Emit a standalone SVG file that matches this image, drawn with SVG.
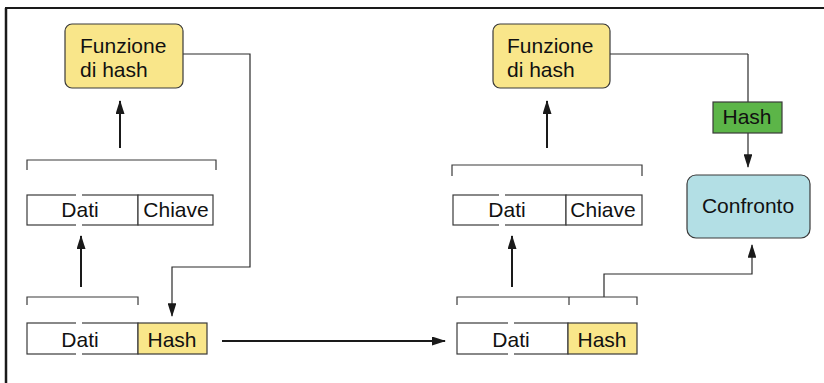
<svg xmlns="http://www.w3.org/2000/svg" width="824" height="383" viewBox="0 0 824 383">
  <style>
    .bg { fill: #ffffff; }
    .frame { stroke: #1a1a1a; fill: none; }
    .cell { fill: #ffffff; stroke: #3a3a3a; stroke-width: 1.2; }
    .hashcell { fill: #f9e68a; stroke: #3a3a3a; stroke-width: 1.2; }
    .func { fill: #f9e68a; stroke: #3a3a3a; stroke-width: 1.2; }
    .green { fill: #5cb548; stroke: #3a3a3a; stroke-width: 1.2; }
    .blue { fill: #b3dfe5; stroke: #3a3a3a; stroke-width: 1.2; }
    .bracket { fill: none; stroke: #3a3a3a; stroke-width: 1.2; }
    .wire { fill: none; stroke: #2a2a2a; stroke-width: 1.2; }
    .arrow { fill: none; stroke: #1a1a1a; stroke-width: 2; }
    .gap { fill: #ffffff; }
    text { font-family: "Liberation Sans", Arial, sans-serif; font-size: 21px; fill: #111111; }
    .c { text-anchor: middle; }
  </style>
  <defs>
    <!-- slender arrowheads: 14 long, 9 wide in user units -->
    <marker id="head" viewBox="0 0 14 9" refX="13" refY="4.5" markerWidth="7" markerHeight="4.5" orient="auto" markerUnits="strokeWidth">
      <path d="M0,0 L14,4.5 L0,9 z" fill="#1a1a1a"/>
    </marker>
    <marker id="headThin" viewBox="0 0 14 9" refX="13" refY="4.5" markerWidth="11.5" markerHeight="7.4" orient="auto" markerUnits="strokeWidth">
      <path d="M0,0 L14,4.5 L0,9 z" fill="#1a1a1a"/>
    </marker>
  </defs>

  <rect class="bg" x="0" y="0" width="824" height="383"/>

  <!-- outer frame: top and left edges -->
  <line class="frame" x1="5" y1="8" x2="824" y2="8" stroke-width="2"/>
  <line class="frame" x1="6" y1="8" x2="6" y2="383" stroke-width="2.5"/>

  <!-- connectors -->
  <g id="connectors">
    <!-- sender side -->
    <polyline class="wire" points="183,54 250,54 250,267 172,267 172,316" marker-end="url(#headThin)"/>
    <line class="arrow" x1="120" y1="148" x2="120" y2="101" marker-end="url(#head)"/>
    <line class="arrow" x1="81" y1="287" x2="81" y2="236" marker-end="url(#head)"/>
    <line class="arrow" x1="222" y1="341" x2="445" y2="341" marker-end="url(#head)"/>
    <!-- receiver side -->
    <line class="arrow" x1="547" y1="148" x2="547" y2="101" marker-end="url(#head)"/>
    <line class="arrow" x1="512" y1="287" x2="512" y2="236" marker-end="url(#head)"/>
    <line class="wire" x1="610" y1="54" x2="748" y2="54"/>
    <line class="wire" x1="748" y1="54" x2="748" y2="102"/>
    <line class="wire" x1="748" y1="133" x2="748" y2="167" marker-end="url(#headThin)"/>
    <polyline class="wire" points="604,297 604,274 752,274 752,245" marker-end="url(#headThin)"/>
  </g>

  <!-- brackets -->
  <g id="brackets">
    <polyline class="bracket" points="27,170 27,160 216,160 216,170"/>
    <polyline class="bracket" points="27,305 27,297 138,297 138,305"/>
    <polyline class="bracket" points="452,176 452,165 642,165 642,176"/>
    <polyline class="bracket" points="457,305 457,297 637,297 637,305"/>
    <line class="bracket" x1="569" y1="297" x2="569" y2="305"/>
  </g>

  <!-- sender: hash function -->
  <g id="func-left">
    <rect class="func" x="65" y="24" width="118" height="64" rx="7"/>
    <text x="80" y="53">Funzione</text>
    <text x="80" y="77">di hash</text>
  </g>

  <!-- sender: data + key -->
  <g id="row-left-key">
    <rect class="cell" x="27" y="195" width="111" height="30"/>
    <rect class="cell" x="138" y="195" width="75" height="30"/>
    <rect class="gap" x="76" y="193" width="6" height="4"/>
    <rect class="gap" x="76" y="223" width="6" height="4"/>
    <text class="c" x="80" y="217">Dati</text>
    <text class="c" x="176" y="217">Chiave</text>
  </g>

  <!-- sender: data + hash -->
  <g id="row-left-hash">
    <rect class="cell" x="27" y="323" width="111" height="31"/>
    <rect class="hashcell" x="138" y="323" width="69" height="31"/>
    <rect class="gap" x="76" y="321" width="6" height="4"/>
    <rect class="gap" x="76" y="352" width="6" height="4"/>
    <text class="c" x="80" y="347">Dati</text>
    <text class="c" x="172" y="347">Hash</text>
  </g>

  <!-- receiver: hash function -->
  <g id="func-right">
    <rect class="func" x="493" y="24" width="117" height="64" rx="7"/>
    <text x="507" y="53">Funzione</text>
    <text x="507" y="77">di hash</text>
  </g>

  <!-- receiver: computed hash -->
  <g id="hash-green">
    <rect class="green" x="713" y="102" width="69" height="31"/>
    <text class="c" x="747" y="124">Hash</text>
  </g>

  <!-- receiver: comparison -->
  <g id="confronto">
    <rect class="blue" x="687" y="175" width="123" height="63" rx="9"/>
    <text class="c" x="748" y="213">Confronto</text>
  </g>

  <!-- receiver: data + key -->
  <g id="row-right-key">
    <rect class="cell" x="453" y="195" width="113" height="30"/>
    <rect class="cell" x="566" y="195" width="76" height="30"/>
    <rect class="gap" x="499" y="193" width="6" height="4"/>
    <rect class="gap" x="499" y="223" width="6" height="4"/>
    <text class="c" x="507" y="217">Dati</text>
    <text class="c" x="603" y="217">Chiave</text>
  </g>

  <!-- receiver: data + hash -->
  <g id="row-right-hash">
    <rect class="cell" x="457" y="323" width="111" height="31"/>
    <rect class="hashcell" x="568" y="323" width="69" height="31"/>
    <rect class="gap" x="508" y="321" width="6" height="4"/>
    <rect class="gap" x="508" y="352" width="6" height="4"/>
    <text class="c" x="511" y="347">Dati</text>
    <text class="c" x="602" y="347">Hash</text>
  </g>
</svg>
